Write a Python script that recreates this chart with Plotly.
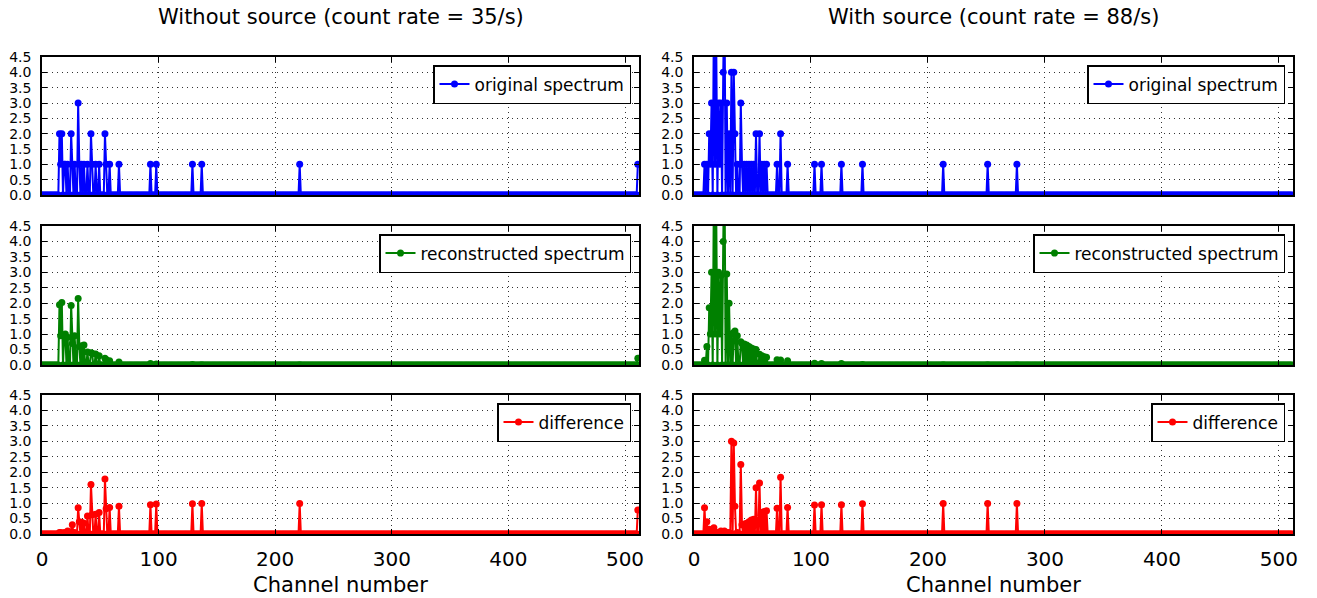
import numpy as np
import plotly.graph_objects as go

N_CHANNELS = 512

# ---------------- data ----------------
# Without source: channels holding counts
L_CH = [15, 16, 17, 19, 20, 22, 25, 26, 28, 31, 32, 34, 36, 39, 42, 43, 46, 49,
        54, 55, 58, 66, 93, 98, 129, 137, 221, 511]
L_ORIG = [2, 1, 2, 1, 1, 1, 2, 1, 1, 3, 1, 1, 1, 1, 2, 1, 1, 1,
          2, 1, 1, 1, 1, 1, 1, 1, 1, 1]
L_REC = [1.95, 0.95, 2.02, 0.95, 1.0, 0.9, 1.93, 0.7, 0.95, 2.15, 0.6, 0.62, 0.65, 0.42,
         0.4, 0.38, 0.36, 0.3, 0.22, 0.18, 0.14, 0.1, 0.05, 0.03, 0.02, 0.01, 0.01, 0.22]
L_DIFF = [0.05, 0.05, 0.02, 0.05, 0.02, 0.1, 0.07, 0.3, 0.05, 0.85, 0.4, 0.38, 0.35, 0.58,
          1.6, 0.62, 0.64, 0.7, 1.78, 0.82, 0.86, 0.9, 0.95, 0.97, 0.98, 0.99, 0.99, 0.78]

# With source
R_CH = [9, 11, 13, 14, 15, 17, 18, 19, 21, 22, 23, 25, 26, 28, 30, 32, 34, 35, 37,
        40, 41, 43, 45, 47, 49, 51, 53, 56, 58, 60, 62, 71, 74, 80, 103, 109, 126,
        144, 213, 251, 276]
R_ORIG = [1, 1, 2, 1, 3, 6, 1, 5, 3, 1, 3, 4, 7, 3, 2, 4, 4, 2, 1,
          3, 1, 1, 1, 1, 1, 1, 2, 2, 1, 1, 1, 1, 2, 1, 1, 1, 1,
          1, 1, 1, 1]
R_REC = [0.15, 0.6, 1.85, 1.0, 3.0, 5.8, 1.0, 5.0, 3.0, 1.0, 2.9, 4.0, 6.9, 2.95, 2.0,
         1.0, 1.05, 1.1, 0.95, 0.75, 0.7, 0.68, 0.65, 0.6, 0.55, 0.52, 0.5, 0.35, 0.3,
         0.27, 0.25, 0.17, 0.16, 0.14, 0.06, 0.05, 0.05, 0.02, 0.01, 0.01, 0.01]
R_DIFF = [0.85, 0.4, 0.15, 0.05, 0.05, 0.2, 0.05, 0.05, 0.05, 0.05, 0.1, 0.05, 0.1, 0.05,
          0.05, 3.0, 2.95, 0.9, 0.05, 2.25, 0.3, 0.32, 0.35, 0.4, 0.45, 0.48, 1.5, 1.65,
          0.7, 0.73, 0.75, 0.83, 1.84, 0.86, 0.94, 0.95, 0.95, 0.98, 0.99, 0.99, 0.99]

TITLES = ["Without source (count rate = 35/s)", "With source (count rate = 88/s)"]
SERIES_NAMES = ["original spectrum", "reconstructed spectrum", "difference"]
COLORS = ["#0000ff", "#008000", "#ff0000"]
X_TICKS = [0, 100, 200, 300, 400, 500]
X_LABEL = "Channel number"


def spectrum(ch, vals):
    y = np.zeros(N_CHANNELS)
    y[np.array(ch)] = vals
    return y


channels = np.arange(N_CHANNELS)
data = [
    [spectrum(L_CH, L_ORIG), spectrum(L_CH, L_REC), spectrum(L_CH, L_DIFF)],
    [spectrum(R_CH, R_ORIG), spectrum(R_CH, R_REC), spectrum(R_CH, R_DIFF)],
]

# ---------------- layout geometry ----------------
W, H = 1317, 598
FONT = "DejaVu Sans"


def fx(p):
    return p / W


def fy(p):
    return 1 - p / H


COLS = [(42, 639), (694, 1293)]
ROWS = [(57, 195), (226, 365), (395, 534)]

fig = go.Figure()
layout = dict(
    width=W, height=H, margin=dict(l=0, r=0, t=0, b=0, autoexpand=False),
    paper_bgcolor="white", plot_bgcolor="white",
    font=dict(family=FONT, color="black"),
    annotations=[],
)

k = 0
for c in range(2):
    for r in range(3):
        k += 1
        sfx = "" if k == 1 else str(k)
        xa, ya = "x" + sfx, "y" + sfx
        lg = "legend" + sfx
        fig.add_trace(go.Scatter(
            x=channels, y=data[c][r], mode="lines+markers",
            name=SERIES_NAMES[r], xaxis=xa, yaxis=ya, legend=lg,
            line=dict(color=COLORS[r], width=2),
            marker=dict(color=COLORS[r], size=7),
            showlegend=True, cliponaxis=True,
        ))
        x0, x1 = COLS[c]
        y0, y1 = ROWS[r]
        common = dict(
            showline=True, linecolor="black", linewidth=1.5, mirror="ticks",
            ticks="inside", ticklen=5, tickwidth=1, tickcolor="black",
            showgrid=True, gridcolor="#333333", gridwidth=1, griddash="1px,4px",
            zeroline=False, ticklabelstandoff=6, automargin=False,
        )
        layout["xaxis" + sfx] = dict(
            common, domain=[fx(x0), fx(x1)], anchor=ya, range=[0, 512],
            tickvals=X_TICKS, ticktext=[str(v) for v in X_TICKS],
            showticklabels=(r == 2), tickfont=dict(size=20),
            title=dict(text=X_LABEL if r == 2 else "", font=dict(size=21), standoff=8),
        )
        layout["yaxis" + sfx] = dict(
            common, domain=[fy(y1), fy(y0)], anchor=xa, range=[0, 4.5],
            dtick=0.5, tick0=0, tickformat=".1f", tickfont=dict(size=14),
        )
        layout[lg] = dict(
            x=fx(x1 - 8), xanchor="right", y=fy(y0 + 8), yanchor="top",
            bgcolor="white", bordercolor="black", borderwidth=1.5,
            font=dict(size=17, family=FONT, color="black"),
        )
    layout["annotations"].append(dict(
        text=TITLES[c], x=fx((COLS[c][0] + COLS[c][1]) / 2), y=fy(17),
        xref="paper", yref="paper", xanchor="center", yanchor="middle",
        showarrow=False, font=dict(size=21, family=FONT, color="black"),
    ))

fig.update_layout(**layout)
fig.write_html("out.html")
